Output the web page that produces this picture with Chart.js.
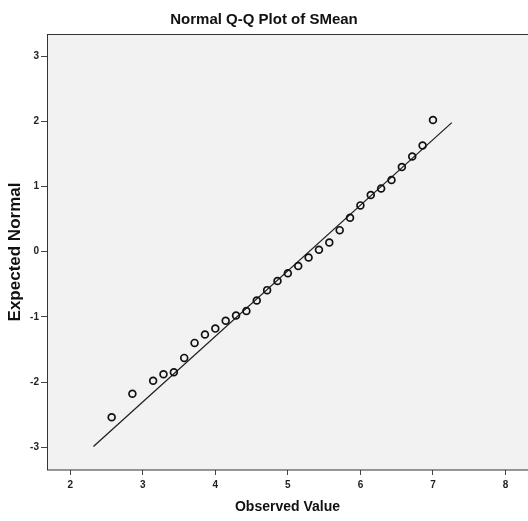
<!DOCTYPE html>
<html>
<head>
<meta charset="utf-8">
<script src="https://cdn.jsdelivr.net/npm/chart.js@4/dist/chart.umd.min.js"></script>
<style>
  html, body { margin: 0; padding: 0; background: #ffffff; }
  #wrap { width: 528px; height: 521px; position: relative; }
</style>
</head>
<body>
<div id="wrap"><canvas id="c" width="528" height="521"></canvas></div>
<script>
// Observed values (multiples of 1/7)
const observed = [18/7, 20/7, 22/7, 23/7, 24/7, 25/7, 26/7, 27/7, 28/7, 29/7,
                  30/7, 31/7, 32/7, 33/7, 34/7, 35/7, 36/7, 37/7, 38/7, 39/7,
                  40/7, 41/7, 42/7, 43/7, 44/7, 45/7, 46/7, 47/7, 48/7, 49/7];
// Expected normal values
const expected = [-2.54, -2.18, -1.98, -1.88, -1.85, -1.63, -1.40, -1.27, -1.18, -1.06,
                  -0.98, -0.91, -0.75, -0.59, -0.45, -0.33, -0.22, -0.09, 0.03, 0.14,
                  0.33, 0.52, 0.71, 0.87, 0.97, 1.10, 1.30, 1.46, 1.63, 2.02];
// Reference line endpoints
const lineX = [2.32, 7.26];
const lineY = [-2.99, 1.98];
// Tick labels
const xTicks = [2, 3, 4, 5, 6, 7, 8];
const yTicks = [-3, -2, -1, 0, 1, 2, 3];

const pts = observed.map((x, i) => ({ x: x, y: expected[i] }));
const linePts = lineX.map((x, i) => ({ x: x, y: lineY[i] }));

const frame = {
  id: 'frame',
  beforeDatasetsDraw(chart) {
    const a = chart.chartArea, ctx = chart.ctx;
    ctx.save();
    ctx.fillStyle = '#f2f2f2';
    ctx.fillRect(a.left, a.top, a.right - a.left, a.bottom - a.top);
    ctx.strokeStyle = '#333';
    ctx.lineWidth = 1;
    ctx.strokeRect(a.left + 0.5, a.top + 0.5, a.right - a.left + 2, a.bottom - a.top - 0.5);
    ctx.restore();
  }
};

new Chart(document.getElementById('c'), {
  type: 'scatter',
  data: {
    datasets: [
      {
        type: 'line',
        data: linePts,
        borderColor: '#222',
        borderWidth: 1.3,
        pointRadius: 0,
        fill: false,
        order: 2
      },
      {
        type: 'scatter',
        data: pts,
        pointStyle: 'circle',
        pointRadius: 3.4,
        borderWidth: 1.7,
        borderColor: '#111',
        backgroundColor: 'rgba(0,0,0,0)',
        order: 1
      }
    ]
  },
  plugins: [frame],
  options: {
    responsive: false,
    animation: false,
    layout: { padding: 0, autoPadding: false },
    plugins: {
      legend: { display: false },
      tooltip: { enabled: false },
      title: {
        display: true,
        text: 'Normal Q-Q Plot of SMean',
        color: '#111',
        font: { family: 'Liberation Sans', size: 15, weight: 'bold', lineHeight: 1.2 },
        padding: { top: 11, bottom: 5 }
      }
    },
    scales: {
      x: {
        type: 'linear',
        min: 1.68,
        max: 8.31,
        afterFit(s) { s.height = 51; s.paddingLeft = 0; s.paddingRight = 0; },
        afterBuildTicks(s) { s.ticks = xTicks.map(v => ({ value: v })); },
        grid: { display: true, drawOnChartArea: false, drawTicks: true, tickLength: 5, color: '#444' },
        border: { display: false },
        ticks: {
          color: '#222',
          padding: 4,
          font: { family: 'Liberation Sans', size: 10, weight: 'bold' },
          maxRotation: 0,
          callback: v => String(v)
        },
        title: {
          display: true,
          text: 'Observed Value',
          color: '#111',
          font: { family: 'Liberation Sans', size: 14, weight: 'bold', lineHeight: 1.2 },
          padding: { top: 0, bottom: 5.6 }
        }
      },
      y: {
        type: 'linear',
        min: -3.35,
        max: 3.34,
        afterFit(s) { s.width = 47; s.paddingTop = 0; s.paddingBottom = 0; },
        afterBuildTicks(s) { s.ticks = yTicks.map(v => ({ value: v })); },
        grid: { display: true, drawOnChartArea: false, drawTicks: true, tickLength: 6, color: '#444' },
        border: { display: false },
        ticks: {
          color: '#222',
          padding: 2,
          font: { family: 'Liberation Sans', size: 10, weight: 'bold' },
          callback: v => String(v)
        },
        title: {
          display: true,
          text: 'Expected Normal',
          color: '#111',
          font: { family: 'Liberation Sans', size: 17, weight: 'bold', lineHeight: 1.2 },
          padding: { top: 4.8, bottom: 0 }
        }
      }
    }
  }
});
</script>
</body>
</html>
